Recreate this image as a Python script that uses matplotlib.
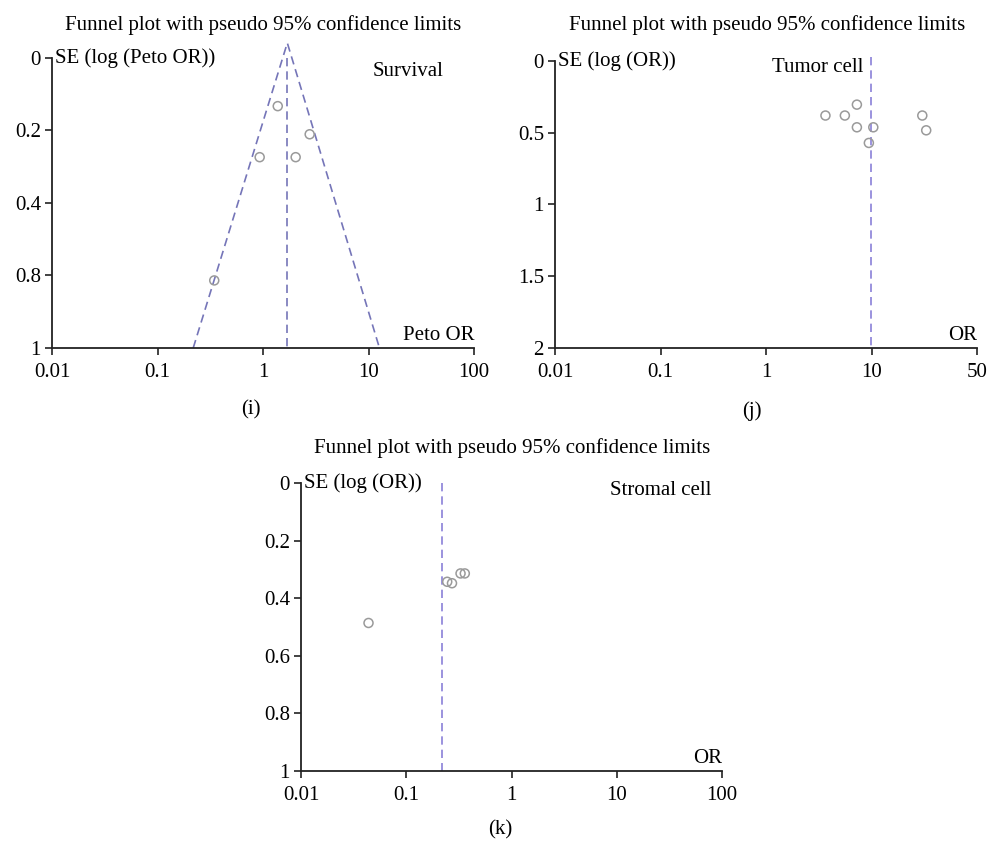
"""Three funnel plots with pseudo 95% confidence limits (panels i, j, k)."""

import matplotlib
matplotlib.use("Agg")
import matplotlib.pyplot as plt

plt.rcParams["font.family"] = ["Liberation Serif", "DejaVu Serif"]

# panel (i): survival, Peto OR
surv_or = [1.38, 2.77, 0.93, 2.04, 0.345]
surv_se = [0.166, 0.263, 0.342, 0.342, 0.767]
surv_pooled = 1.70
surv_funnel_apex = -0.052
surv_funnel_low = 0.218
surv_funnel_high = 12.7
surv_yticks = [0, 0.25, 0.5, 0.75, 1]
surv_ylabels = ["0", "0.2", "0.4", "0.8", "1"]

# panel (j): tumor cell
tumor_or = [3.66, 5.59, 7.27, 7.27, 10.4, 9.44, 30.3, 33.0]
tumor_se = [0.38, 0.38, 0.304, 0.462, 0.462, 0.571, 0.38, 0.483]
tumor_pooled = 9.9
tumor_yticks = [0, 0.5, 1, 1.5, 2]
tumor_ylabels = ["0", "0.5", "1", "1.5", "2"]
tumor_xlabels = ["0.01", "0.1", "1", "10", "50"]

# panel (k): stromal cell
stromal_or = [0.0438, 0.245, 0.272, 0.328, 0.360]
stromal_se = [0.486, 0.343, 0.348, 0.314, 0.314]
stromal_pooled = 0.217
stromal_yticks = [0, 0.2, 0.4, 0.6, 0.8, 1]
stromal_ylabels = ["0", "0.2", "0.4", "0.6", "0.8", "1"]

xticks = [0.01, 0.1, 1, 10, 100]
default_xlabels = ["0.01", "0.1", "1", "10", "100"]

TITLE = "Funnel plot with pseudo 95% confidence limits"
FS = 15
W, H = 990, 841
DASH = (0, (5, 3))


def make_axes(fig, left, top, right, bottom):
    """Place an axes using pixel coordinates measured from the top-left."""
    return fig.add_axes([left / W, 1 - bottom / H, (right - left) / W, (bottom - top) / H])


def fig_text(fig, x, y, s, **kw):
    fig.text(x / W, 1 - y / H, s, fontsize=FS, ha="center", va="center", **kw)


def style_axes(ax, ymax, yticks, ylabels, xlabels, ylab, xlab):
    ax.set_xscale("log")
    ax.set_xlim(0.01, 100)
    ax.set_ylim(ymax, 0)
    ax.set_xticks(xticks)
    ax.set_xticklabels(xlabels)
    ax.minorticks_off()
    ax.set_yticks(yticks)
    ax.set_yticklabels(ylabels)
    for side in ("top", "right"):
        ax.spines[side].set_visible(False)
    for side in ("left", "bottom"):
        ax.spines[side].set_linewidth(1.3)
        ax.spines[side].set_color("#222222")
    ax.tick_params(labelsize=FS, length=5, width=1.2, color="#222222")
    ax.tick_params(axis="x", pad=6)
    ax.tick_params(axis="y", pad=3)
    ax.text(0.008, 1.0, ylab, transform=ax.transAxes, fontsize=FS,
            ha="left", va="center")
    ax.text(1.0, 0.01, xlab, transform=ax.transAxes, fontsize=FS,
            ha="right", va="bottom")


def draw_points(ax, xs, ys):
    ax.scatter(xs, ys, s=42, facecolors="none", edgecolors="#9a9a9a",
               linewidths=1.1, zorder=3, clip_on=False)


fig = plt.figure(figsize=(W / 100, H / 100), dpi=100)

# (i)
ax1 = make_axes(fig, 52, 58, 474, 348)
style_axes(ax1, 1, surv_yticks, surv_ylabels, default_xlabels,
           "SE (log (Peto OR))", "Peto OR")
ax1.plot([surv_funnel_low, surv_pooled, surv_funnel_high],
         [1, surv_funnel_apex, 1], color="#7575b8", lw=1.2,
         linestyle=DASH, clip_on=False)
ax1.plot([surv_pooled, surv_pooled], [0, 1], color="#7575b8", lw=1.2,
         linestyle=DASH)
draw_points(ax1, surv_or, surv_se)
ax1.text(0.76, 0.952, "Survival", transform=ax1.transAxes, fontsize=FS,
         ha="left", va="center")
fig_text(fig, 263, 25, TITLE)
fig_text(fig, 251, 410, "(i)")

# (j)
ax2 = make_axes(fig, 555, 61, 977, 348)
style_axes(ax2, 2, tumor_yticks, tumor_ylabels, tumor_xlabels,
           "SE (log (OR))", "OR")
ax2.plot([tumor_pooled, tumor_pooled], [-0.03, 2], color="#8a80d8", lw=1.2,
         linestyle=DASH, clip_on=False)
draw_points(ax2, tumor_or, tumor_se)
ax2.text(0.515, 0.979, "Tumor cell", transform=ax2.transAxes, fontsize=FS,
         ha="left", va="center")
fig_text(fig, 767, 25, TITLE)
fig_text(fig, 752, 411, "(j)")

# (k)
ax3 = make_axes(fig, 301, 483, 722, 771)
style_axes(ax3, 1, stromal_yticks, stromal_ylabels, default_xlabels,
           "SE (log (OR))", "OR")
ax3.plot([stromal_pooled, stromal_pooled], [0, 1], color="#8a80d8", lw=1.2,
         linestyle=DASH)
draw_points(ax3, stromal_or, stromal_se)
ax3.text(0.735, 0.975, "Stromal cell", transform=ax3.transAxes, fontsize=FS,
         ha="left", va="center")
fig_text(fig, 512, 448, TITLE)
fig_text(fig, 500, 830, "(k)")

fig.savefig("out.png", dpi=100)
